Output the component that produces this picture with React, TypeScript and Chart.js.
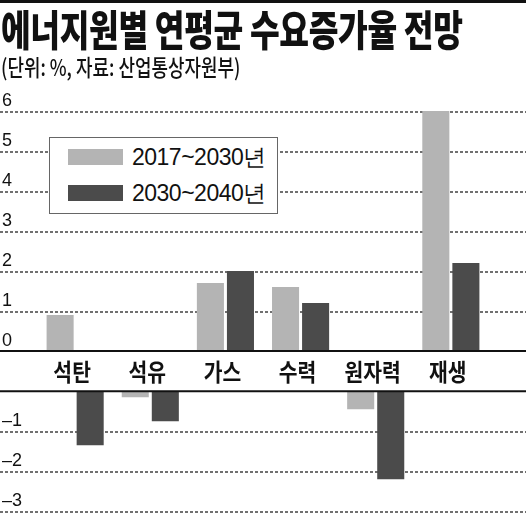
import React, { useEffect, useRef } from 'react'
import { Chart, registerables } from 'chart.js'

Chart.register(...registerables)

const categories = ['석탄', '석유', '가스', '수력', '원자력', '재생']
const seriesNames = ['2017~2030년', '2030~2040년']
const growth2017to2030 = [0.9, -0.15, 1.7, 1.6, -0.45, 6.0]
const growth2030to2040 = [-1.35, -0.75, 2.0, 1.2, -2.2, 2.2]
const seriesColors = ['#b4b4b4', '#4b4b4b']
const yTicks = [-4, -3, -2, -1, 0, 1, 2, 3, 4, 5, 6]

// negative values are drawn below a one-unit label band, so shift them down by 1
const toBar = (v: number, i: number) => ({ x: i + 1, y: v < 0 ? [-1, v - 1] : [0, v] })
const tickText = (v: number) => (v >= 0 ? String(v) : v === -1 ? '' : '–' + String(-(v + 1)))

const bandPlugin = {
  id: 'band',
  afterDatasetsDraw(chart: any) {
    const ctx = chart.ctx
    const x = chart.scales.x
    const y = chart.scales.y
    const w = chart.width
    const top = y.getPixelForValue(0)
    const bottom = y.getPixelForValue(-1)
    ctx.save()
    // dashed grid goes behind what is already drawn (bars, tick labels)
    ctx.globalCompositeOperation = 'destination-over'
    ctx.fillStyle = '#707070'
    for (const v of yTicks) {
      if (v === 0 || v === -1) continue
      const py = Math.min(Math.round(y.getPixelForValue(v)), chart.height - 2)
      for (let px = 0; px < w; px += 5) {
        ctx.fillRect(px, py, 3, 2)
      }
    }
    ctx.globalCompositeOperation = 'source-over'
    ctx.strokeStyle = '#111'
    ctx.lineWidth = 2
    for (const py of [top, bottom]) {
      ctx.beginPath()
      ctx.moveTo(0, py)
      ctx.lineTo(w, py)
      ctx.stroke()
    }
    ctx.fillStyle = '#111'
    ctx.font = 'bold 24px "Noto Sans CJK KR", sans-serif'
    ctx.textAlign = 'center'
    ctx.textBaseline = 'middle'
    categories.forEach((c, i) => {
      ctx.save()
      ctx.translate(x.getPixelForValue(i + 1) - 3, (top + bottom) / 2 + 1)
      ctx.scale(0.85, 1)
      ctx.fillText(c, 0, 0)
      ctx.restore()
    })
    ctx.restore()
  },
}

const BarChart: React.FC = () => {
  const ref = useRef<HTMLCanvasElement | null>(null)

  useEffect(() => {
    if (!ref.current) return
    const chart = new Chart(ref.current, {
      type: 'bar',
      data: {
        datasets: [growth2017to2030, growth2030to2040].map((d, k) => ({
          label: seriesNames[k],
          data: d.map(toBar),
          backgroundColor: seriesColors[k],
          borderWidth: 0,
        })),
      },
      options: {
        responsive: false,
        animation: false,
        layout: { padding: { top: 111, bottom: 1, left: 0, right: 0 } },
        plugins: { legend: { display: false }, tooltip: { enabled: false } },
        scales: {
          x: { type: 'linear', min: 0, max: 7, offset: false, display: false, ticks: { stepSize: 1 } },
          y: {
            min: -4,
            max: 6,
            afterBuildTicks: (s: any) => {
              s.ticks = yTicks.map((value) => ({ value }))
            },
            afterFit: (s: any) => {
              s.width = 0
            },
            border: { display: false },
            grid: { display: false },
            ticks: {
              mirror: true,
              padding: 2,
              labelOffset: -10,
              color: '#111',
              font: { family: '"Liberation Sans", Arial, sans-serif', size: 18 },
              callback: (v: any) => tickText(Number(v)),
            },
          },
        },
      },
      plugins: [bandPlugin],
    })
    return () => chart.destroy()
  }, [])

  return <canvas ref={ref} width={526} height={524} style={{ display: 'block', width: 526, height: 524 }} />
}

export default function App() {
  return (
    <div style={{ position: 'absolute', left: 0, top: 0, width: 526, height: 524, background: '#fff', overflow: 'hidden' }}>
      <BarChart />
      <div style={{ position: 'absolute', left: 0, top: 0, width: 526, height: 3, background: '#111' }} />
      <div
        style={{
          position: 'absolute',
          left: 1,
          top: 3,
          fontFamily: '"Noto Sans CJK KR", sans-serif',
          fontWeight: 900,
          fontSize: 42,
          lineHeight: '50px',
          whiteSpace: 'nowrap',
          color: '#111',
          transform: 'scaleX(0.77)',
          transformOrigin: 'left top',
          letterSpacing: -0.5,
        }}
      >
        에너지원별 연평균 수요증가율 전망
      </div>
      <div
        style={{
          position: 'absolute',
          left: 1,
          top: 52,
          fontFamily: '"Noto Sans CJK KR", sans-serif',
          fontWeight: 500,
          fontSize: 23,
          lineHeight: '28px',
          whiteSpace: 'nowrap',
          color: '#111',
          transform: 'scaleX(0.78)',
          transformOrigin: 'left top',
        }}
      >
        (단위: %, 자료: 산업통상자원부)
      </div>
      <div
        style={{
          position: 'absolute',
          left: 49,
          top: 137,
          width: 227,
          height: 75,
          border: '1px solid #666',
          background: '#fff',
        }}
      >
        {seriesNames.map((name, k) => (
          <div key={name} style={{ position: 'absolute', left: 18, top: 10 + k * 36, height: 18, display: 'flex', alignItems: 'center' }}>
            <div style={{ width: 55, height: 16, background: seriesColors[k] }} />
            <span
              style={{
                marginLeft: 9,
                fontFamily: '"Liberation Sans", Arial, sans-serif',
                fontSize: 23,
                letterSpacing: -0.5,
                color: '#111',
                whiteSpace: 'nowrap',
              }}
            >
              {name}
            </span>
          </div>
        ))}
      </div>
    </div>
  )
}
